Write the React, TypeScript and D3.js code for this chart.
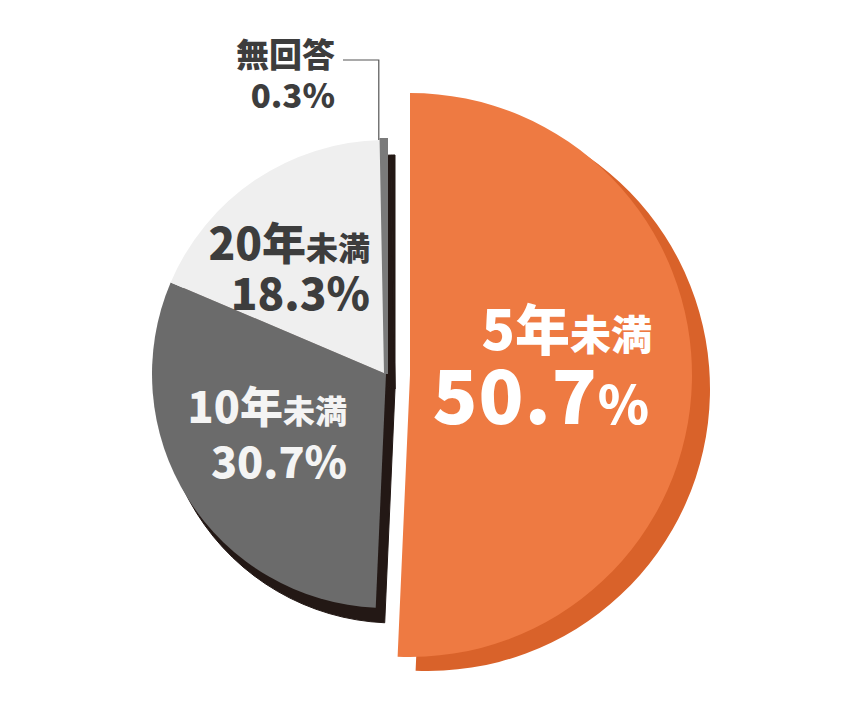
import React from "react";
import * as d3 from "d3";

// chart values, clockwise from 12 o'clock
const categories = ["5年未満", "10年未満", "20年未満", "無回答"];
const shares = [50.7, 30.7, 18.3, 0.3];

// main slice is exploded to the right and drawn larger
const fills = ["#EE7A42", "#6B6B6B", "#EFEFEF", "#7A7A7A"];
const shadowFills = ["#D9622A", "#231815", "#231815", "#231815"];

const W = 860;
const H = 707;

const FONT = "'Noto Sans CJK JP', 'Noto Sans', sans-serif";

type Piece = { text: string; size: number };
type LabelLine = { x: number; y: number; pieces: Piece[]; spacing?: number };

// label placement per slice (layout only)
const labelLayout: { color: string; lines: LabelLine[] }[] = [
  {
    color: "#FFFFFF",
    lines: [
      { x: 652, y: 350, pieces: [{ text: "5年", size: 55 }, { text: "未満", size: 41 }] },
      { x: 650, y: 424, pieces: [{ text: "50.7", size: 74 }, { text: "%", size: 52 }], spacing: 1 },
    ],
  },
  {
    color: "#F4F4F4",
    lines: [
      { x: 347, y: 423, pieces: [{ text: "10年", size: 43 }, { text: "未満", size: 32 }] },
      { x: 347, y: 478, pieces: [{ text: "30.7%", size: 43 }] },
    ],
  },
  {
    color: "#3D3D3D",
    lines: [
      { x: 370, y: 260, pieces: [{ text: "20年", size: 44 }, { text: "未満", size: 32 }] },
      { x: 370, y: 310, pieces: [{ text: "18.3%", size: 44 }] },
    ],
  },
  {
    color: "#3D3D3D",
    lines: [
      { x: 335, y: 67, pieces: [{ text: "無回答", size: 33 }] },
      { x: 335, y: 108, pieces: [{ text: "0.3%", size: 33 }] },
    ],
  },
];

const App: React.FC = () => {
  const pie = d3
    .pie<number>()
    .sort(null)
    .value((d) => d)
    .startAngle(0)
    .endAngle(2 * Math.PI);
  const arcs = pie(shares);

  // exploded slice and the rest of the pie have their own centres / radii
  const mainR = 282;
  const restR = 234;
  const mainCenter = { x: 410, y: 375 };
  const restCenter = { x: 386, y: 374 };
  const mainArc = d3.arc<d3.PieArcDatum<number>>().innerRadius(0).outerRadius(mainR);
  const restArc = d3.arc<d3.PieArcDatum<number>>().innerRadius(0).outerRadius(restR);

  const mainShadow = { dx: 18, dy: 14 };
  const restShadow = { dx: 9, dy: 15 };

  const main = arcs[0];
  const rest = arcs.slice(1);

  // leader line goes down to the top of the 無回答 sliver
  const tiny = rest[rest.length - 1];
  const tinyMid = (tiny.startAngle + tiny.endAngle) / 2;
  const leaderX = restCenter.x + restR * Math.sin(tinyMid) - 5;
  const leaderBottom = restCenter.y - restR * Math.cos(tinyMid);

  return (
    <svg
      width={W}
      height={H}
      viewBox={`0 0 ${W} ${H}`}
      style={{ position: "absolute", left: 0, top: 0, background: "#FFFFFF" }}
      fontFamily={FONT}
    >
      {/* shadow of the rest of the pie */}
      <g transform={`translate(${restCenter.x + restShadow.dx},${restCenter.y + restShadow.dy})`}>
        {rest.map((a, i) => (
          <path
            key={`rs-${i}`}
            d={restArc(a) || ""}
            fill={shadowFills[i + 1]}
            stroke={shadowFills[i + 1]}
            strokeWidth={1}
          />
        ))}
      </g>
      {/* rest of the pie */}
      <g transform={`translate(${restCenter.x},${restCenter.y})`}>
        {rest.map((a, i) => (
          <path
            key={`r-${i}`}
            d={restArc(a) || ""}
            fill={fills[i + 1]}
            stroke={i === rest.length - 1 ? fills[i + 1] : "none"}
            strokeWidth={i === rest.length - 1 ? 4 : 0}
          />
        ))}
      </g>
      {/* shadow of the exploded slice */}
      <g transform={`translate(${mainCenter.x + mainShadow.dx},${mainCenter.y + mainShadow.dy})`}>
        <path d={mainArc(main) || ""} fill={shadowFills[0]} />
      </g>
      <g transform={`translate(${mainCenter.x},${mainCenter.y})`}>
        <path d={mainArc(main) || ""} fill={fills[0]} />
      </g>

      {/* leader line for 無回答 */}
      <polyline
        points={`343,60 ${leaderX},60 ${leaderX},${leaderBottom}`}
        fill="none"
        stroke="#555555"
        strokeWidth={1.2}
      />

      {/* labels */}
      {labelLayout.map((lab, i) => (
        <g key={`lab-${i}`} fill={lab.color} fontWeight={900} aria-label={categories[i]}>
          {lab.lines.map((ln, j) => (
            <text key={j} x={ln.x} y={ln.y} textAnchor="end" letterSpacing={ln.spacing ?? 0}>
              {ln.pieces.map((p, k) => (
                <tspan key={k} fontSize={p.size}>
                  {p.text}
                </tspan>
              ))}
            </text>
          ))}
        </g>
      ))}
    </svg>
  );
};

export default App;
